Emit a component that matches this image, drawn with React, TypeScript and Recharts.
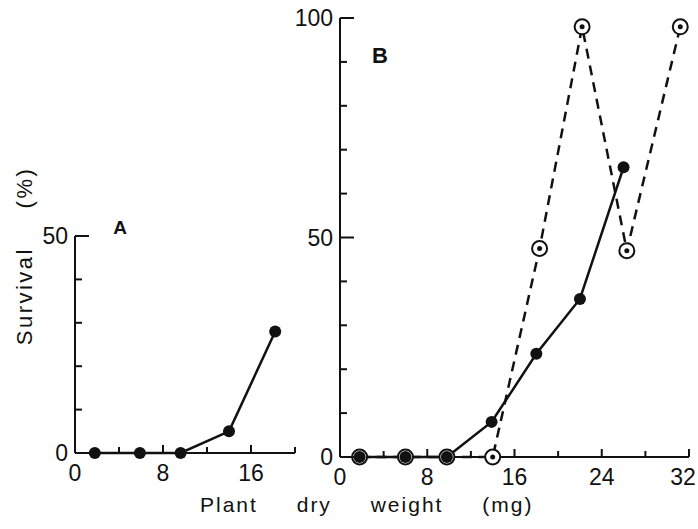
import { LineChart, Line, XAxis, YAxis } from "recharts";

// panel A
const weightA = [1.8, 5.9, 9.6, 14, 18.2];
const survivalA = [0, 0, 0, 5, 28];
const xTicksA = [0, 4, 8, 12, 16, 20];
const xLabelsA = [0, 8, 16];
const yTicksA = [0, 10, 20, 30, 40, 50];
const yLabelsA = [0, 50];

// panel B
const weightB = [1.8, 6, 9.8, 13.9, 18, 22, 26];
const survivalB = [0, 0, 0, 8, 23.5, 36, 66];
const weightBOpen = [1.8, 6, 9.8, 14, 18.3, 22.2, 26.3, 31.2];
const survivalBOpen = [0, 0, 0, 0, 47.5, 98, 47, 98];
const xTicksB = [0, 4, 8, 12, 16, 20, 24, 28, 32];
const xLabelsB = [0, 8, 16, 24, 32];
const yTicksB = [0, 10, 20, 30, 40, 50, 60, 70, 80, 90, 100];
const yLabelsB = [0, 50, 100];

const FONT = "'Liberation Sans', Arial, sans-serif";
const INK = "#111";
const W = 698;
const H = 529;

const toRows = (xs: number[], ys: number[]) => xs.map((x, i) => ({ x, y: ys[i] }));

const makeXTick = (labels: number[]) => (p: any) => {
  const v = p.payload.value;
  const labelled = labels.includes(v);
  const x = Number(p.x);
  const y = Number(p.y);
  return (
    <g key={`xt-${v}`}>
      <path d={`M${x},${y} V${y - (labelled ? 8 : 6)}`} stroke={INK} strokeWidth={2} fill="none" />
      {labelled && (
        <text x={Math.min(x, W - 15)} y={y + 28} textAnchor="middle" fontSize={23} fontFamily={FONT} fill={INK}>
          {v}
        </text>
      )}
    </g>
  );
};

const makeYTick = (labels: number[]) => (p: any) => {
  const v = p.payload.value;
  const labelled = labels.includes(v);
  const x = Number(p.x);
  const y = Number(p.y);
  return (
    <g key={`yt-${v}`}>
      <path d={`M${x},${y} H${x + (labelled ? 14 : 7)}`} stroke={INK} strokeWidth={2} fill="none" />
      {labelled && (
        <text x={x - 7} y={y + 8} textAnchor="end" fontSize={23} fontFamily={FONT} fill={INK}>
          {v}
        </text>
      )}
    </g>
  );
};

const filledDot = (p: any) => (
  <circle key={`f-${p.index}`} cx={p.cx} cy={p.cy} r={6} fill={INK} stroke="none" />
);

const openDot = (p: any) => (
  <g key={`o-${p.index}`}>
    <circle cx={p.cx} cy={p.cy} r={7.5} fill="#fff" stroke={INK} strokeWidth={2} />
    <circle cx={p.cx} cy={p.cy} r={2.5} fill={INK} />
  </g>
);

export default function App() {
  return (
    <div style={{ position: "absolute", left: 0, top: 0, width: W, height: H, background: "#fff" }}>
      <div style={{ position: "absolute", left: 0, top: 0 }}>
        <LineChart width={W} height={H} margin={{ left: 74, right: W - 295, top: 236, bottom: H - 453 - 1 }}>
          <XAxis
            dataKey="x"
            type="number"
            domain={[0, 20]}
            ticks={xTicksA}
            interval={0}
            height={1}
            tickSize={0}
            tickMargin={0}
            tickLine={false}
            axisLine={{ stroke: INK, strokeWidth: 2 }}
            tick={makeXTick(xLabelsA)}
          />
          <YAxis
            dataKey="y"
            type="number"
            domain={[0, 50]}
            ticks={yTicksA}
            interval={0}
            width={1}
            tickSize={0}
            tickMargin={0}
            tickLine={false}
            axisLine={{ stroke: INK, strokeWidth: 2 }}
            tick={makeYTick(yLabelsA)}
          />
          <Line
            data={toRows(weightA, survivalA)}
            dataKey="y"
            type="linear"
            stroke={INK}
            strokeWidth={2.5}
            dot={filledDot}
            isAnimationActive={false}
          />
        </LineChart>
      </div>
      <div style={{ position: "absolute", left: 0, top: 0 }}>
        <LineChart width={W} height={H} margin={{ left: 339, right: W - 689, top: 18, bottom: H - 457 - 1 }}>
          <XAxis
            dataKey="x"
            type="number"
            domain={[0, 32]}
            ticks={xTicksB}
            interval={0}
            height={1}
            tickSize={0}
            tickMargin={0}
            tickLine={false}
            axisLine={{ stroke: INK, strokeWidth: 2 }}
            tick={makeXTick(xLabelsB)}
          />
          <YAxis
            dataKey="y"
            type="number"
            domain={[0, 100]}
            ticks={yTicksB}
            interval={0}
            width={1}
            tickSize={0}
            tickMargin={0}
            tickLine={false}
            axisLine={{ stroke: INK, strokeWidth: 2 }}
            tick={makeYTick(yLabelsB)}
          />
          <Line
            data={toRows(weightBOpen, survivalBOpen)}
            dataKey="y"
            type="linear"
            stroke={INK}
            strokeWidth={2.5}
            strokeDasharray="10 7"
            dot={openDot}
            isAnimationActive={false}
          />
          <Line
            data={toRows(weightB, survivalB)}
            dataKey="y"
            type="linear"
            stroke={INK}
            strokeWidth={2.5}
            dot={filledDot}
            isAnimationActive={false}
          />
        </LineChart>
      </div>
      <svg width={W} height={H} style={{ position: "absolute", left: 0, top: 0, pointerEvents: "none" }}>
        <text x={120} y={234} textAnchor="middle" fontSize={19} fontWeight="bold" fontFamily={FONT} fill={INK}>
          A
        </text>
        <text x={380} y={63} textAnchor="middle" fontSize={22} fontWeight="bold" fontFamily={FONT} fill={INK}>
          B
        </text>
        <text
          x={32}
          y={256}
          transform="rotate(-90, 32, 256)"
          textAnchor="middle"
          fontSize={22}
          letterSpacing={2.5}
          wordSpacing={30}
          fontFamily={FONT}
          fill={INK}
        >
          Survival (%)
        </text>
        <text
          x={200}
          y={512}
          fontSize={21}
          letterSpacing={2}
          wordSpacing={31}
          fontFamily={FONT}
          fill={INK}
        >
          Plant dry weight (mg)
        </text>
      </svg>
    </div>
  );
}
